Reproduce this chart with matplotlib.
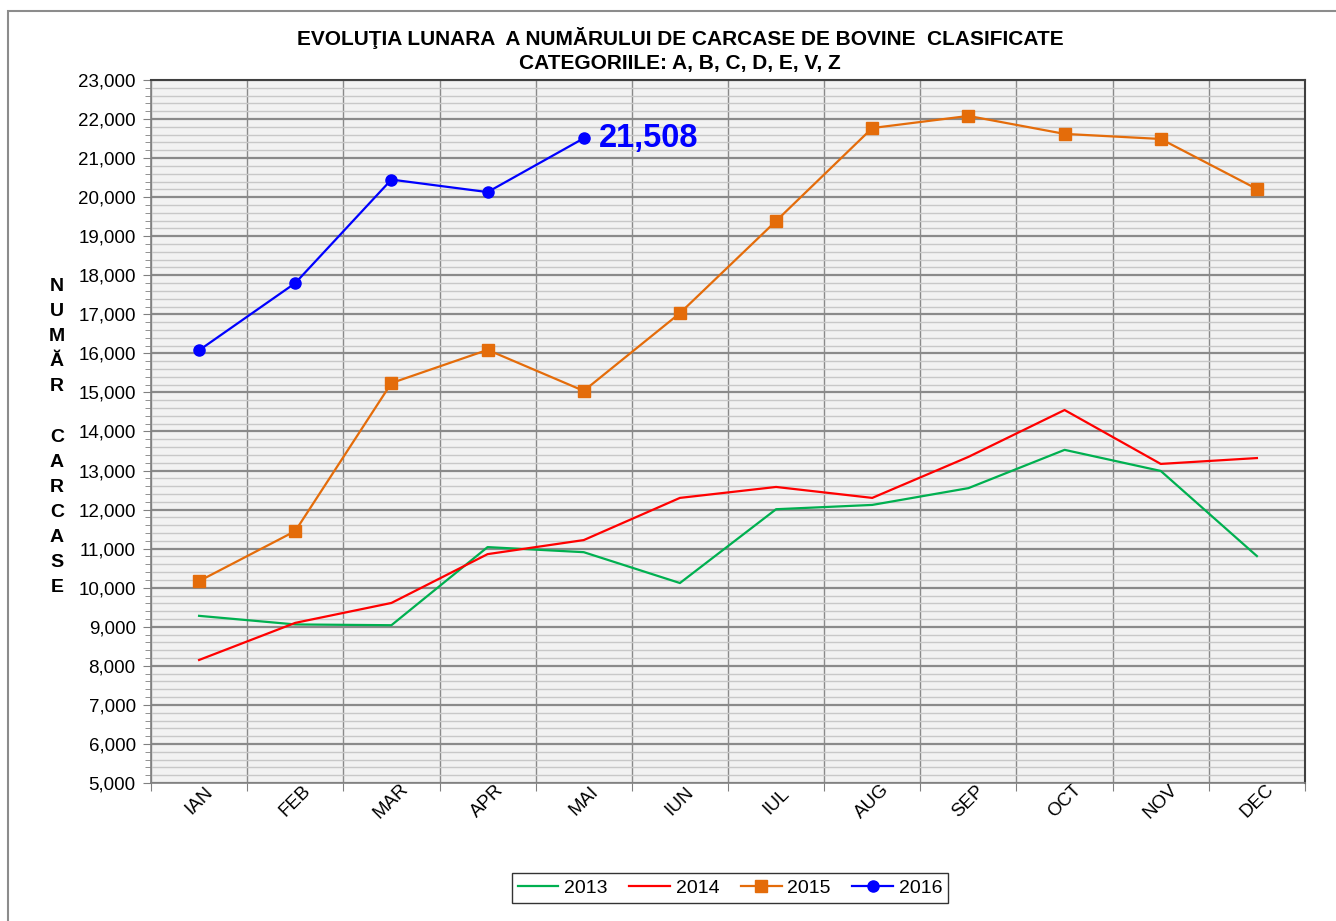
import matplotlib
matplotlib.use("Agg")
import matplotlib.pyplot as plt
from matplotlib.patches import Rectangle
from matplotlib.ticker import MultipleLocator, FixedLocator, NullFormatter, FuncFormatter

plt.rcParams["font.family"] = ["Liberation Sans", "DejaVu Sans"]

months = ["IAN", "FEB", "MAR", "APR", "MAI", "IUN", "IUL", "AUG", "SEP", "OCT", "NOV", "DEC"]
v2013 = [9280, 9060, 9040, 11040, 10910, 10120, 12010, 12120, 12550, 13530, 12990, 10810]
v2014 = [8150, 9100, 9610, 10860, 11220, 12300, 12580, 12300, 13350, 14550, 13170, 13320]
v2015 = [10170, 11450, 15240, 16090, 15040, 17030, 19390, 21770, 22080, 21620, 21490, 20210]
v2016 = [16080, 17800, 20450, 20130, 21508]

title = "EVOLUŢIA LUNARA  A NUMĂRULUI DE CARCASE DE BOVINE  CLASIFICATE\nCATEGORIILE: A, B, C, D, E, V, Z"
ylabel = "NUMĂR CARCASE"

fig = plt.figure(figsize=(13.36, 9.21), dpi=100)
fig.patches.append(Rectangle((8 / 1336, -0.1), 1.2, 1 - 11 / 921 + 0.1,
                             transform=fig.transFigure, fill=False,
                             edgecolor="#8c8c8c", linewidth=1.5))

ax = fig.add_axes([151 / 1336, 1 - 783 / 921, (1305 - 151) / 1336, (783 - 80) / 921])
ax.set_facecolor("#f2f2f2")

x = [i + 0.5 for i in range(len(months))]
ax.plot(x, v2013, color="#00b050", lw=1.6, label="2013", zorder=3)
ax.plot(x, v2014, color="#ff0000", lw=1.6, label="2014", zorder=3)
ax.plot(x, v2015, color="#e46c0a", lw=1.6, marker="s", ms=9, label="2015", zorder=4)
ax.plot(x[:len(v2016)], v2016, color="#0000ff", lw=1.6, marker="o", ms=8, label="2016", zorder=5)

ax.annotate(f"{v2016[-1]:,}", (x[len(v2016) - 1], v2016[-1]), xytext=(11, 0),
            textcoords="offset points", ha="left", va="center",
            fontsize=23.5, fontweight="bold", color="#0000ff")

ax.set_xlim(0, 12)
ax.set_ylim(5000, 23000)

ax.yaxis.set_major_locator(MultipleLocator(1000))
ax.yaxis.set_minor_locator(MultipleLocator(200))
ax.yaxis.set_major_formatter(FuncFormatter(lambda v, p: f"{int(v):,}"))
ax.xaxis.set_major_locator(FixedLocator(range(13)))
ax.xaxis.set_major_formatter(NullFormatter())
ax.xaxis.set_minor_locator(FixedLocator(x))
ax.set_xticklabels(months, minor=True, rotation=45, fontsize=13.5)

ax.tick_params(axis="y", which="major", length=6, color="#808080", labelsize=13.5, pad=5)
ax.tick_params(axis="y", which="minor", length=4, color="#808080")
ax.tick_params(axis="x", which="major", length=6, color="#808080")
ax.tick_params(axis="x", which="minor", length=0, pad=13)
for lab in ax.get_xticklabels(minor=True):
    lab.set_ha("center")
    lab.set_va("center")

ax.grid(which="major", axis="y", color="#8a8a8a", lw=1.6, zorder=1)
ax.grid(which="minor", axis="y", color="#c8c8c8", lw=1.0, zorder=1)
ax.grid(which="major", axis="x", color="#8a8a8a", lw=1.0, zorder=1)
ax.set_axisbelow(True)

for side in ["top", "right"]:
    ax.spines[side].set_color("#404040")
    ax.spines[side].set_linewidth(1.5)
for side in ["left", "bottom"]:
    ax.spines[side].set_color("#808080")
    ax.spines[side].set_linewidth(1.2)

fig.text(680 / 1336, 1 - 50 / 921, title, ha="center", va="center",
         fontsize=15, fontweight="bold", linespacing=1.3)

letters = "\n".join(ch if ch != " " else "" for ch in ylabel)
fig.text(57 / 1336, 1 - 437 / 921, letters, ha="center", va="center",
         fontsize=14, fontweight="bold", linespacing=1.62)

leg = fig.legend(loc="center", bbox_to_anchor=(730 / 1336, 1 - 888 / 921), ncol=4,
                 fontsize=14, frameon=True, fancybox=False, handlelength=2.1,
                 handletextpad=0.3, columnspacing=1.1, borderpad=0.3)
leg.get_frame().set_edgecolor("#000000")
leg.get_frame().set_linewidth(1.0)

fig.savefig("out.png", dpi=100)
